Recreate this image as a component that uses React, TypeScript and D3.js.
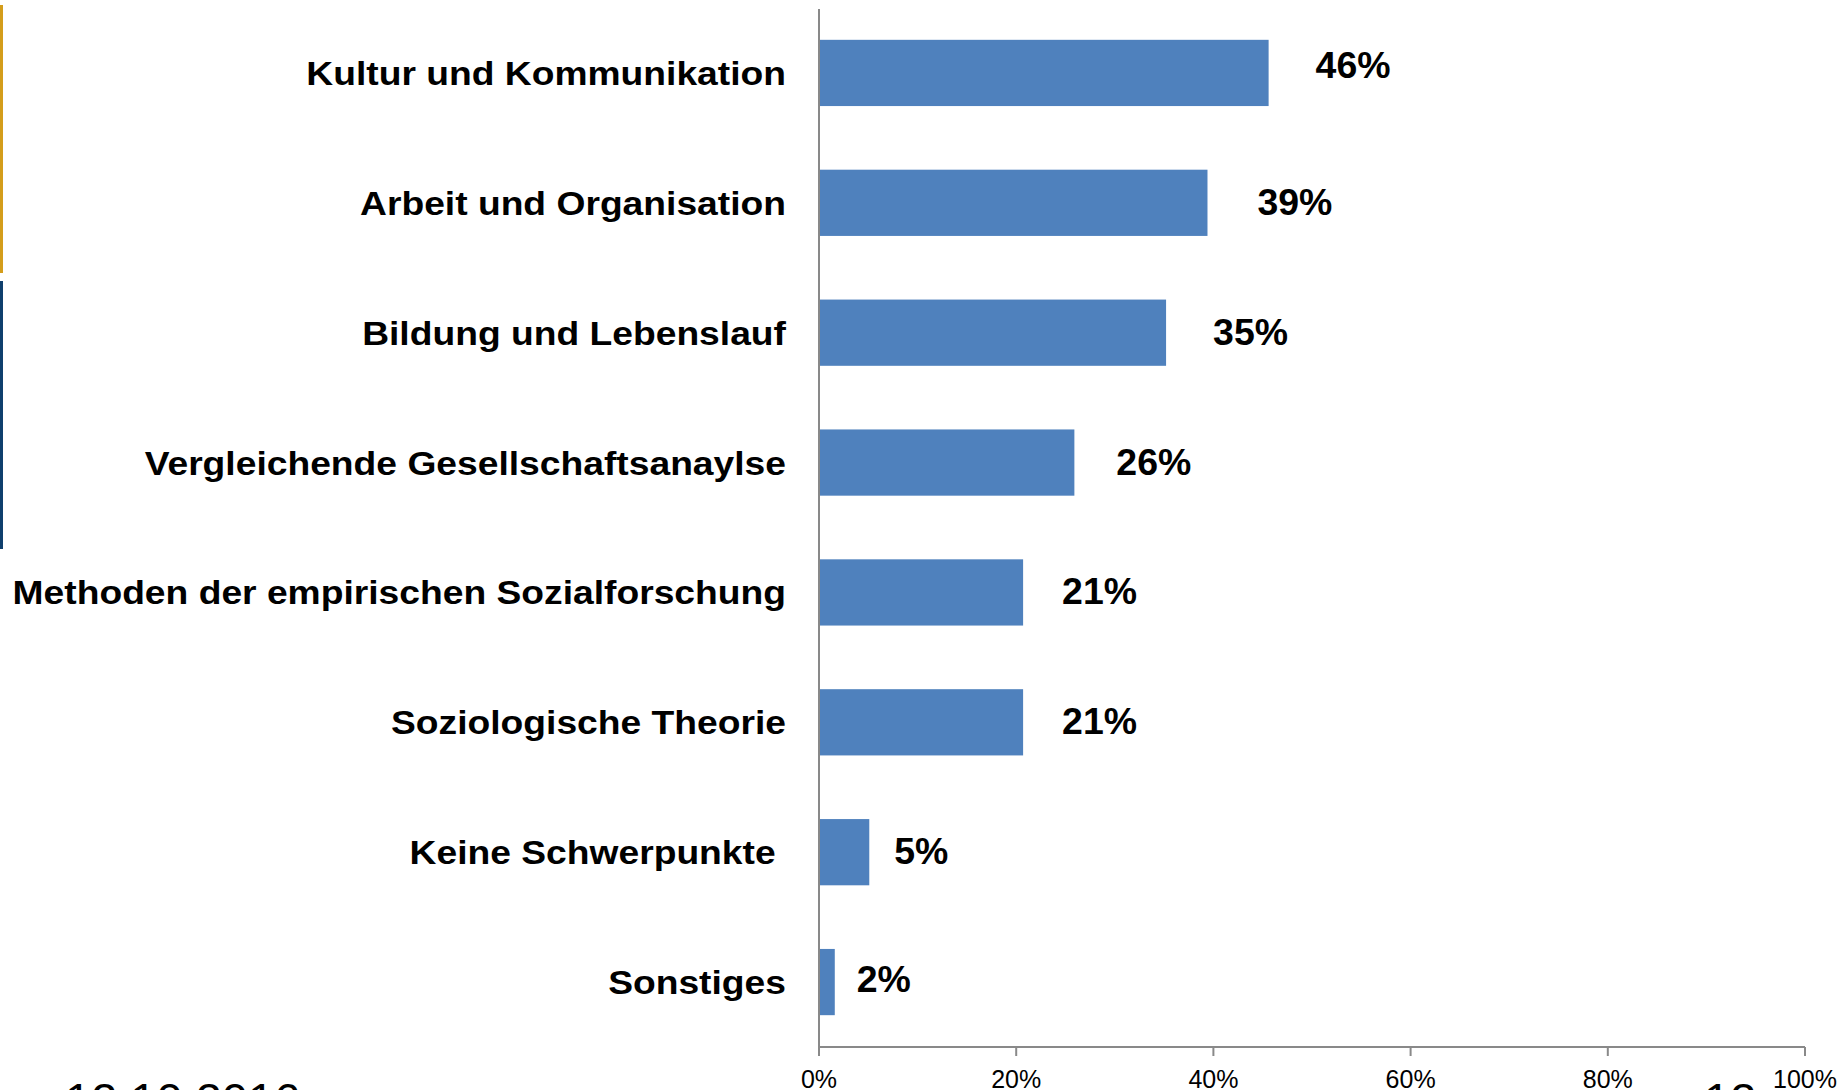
import React from "react";
import * as d3 from "d3";

const categories = [
  "Kultur und Kommunikation",
  "Arbeit und Organisation",
  "Bildung und Lebenslauf",
  "Vergleichende Gesellschaftsanaylse",
  "Methoden der empirischen Sozialforschung",
  "Soziologische Theorie",
  "Keine Schwerpunkte ",
  "Sonstiges",
];
const values = [45.6, 39.4, 35.2, 25.9, 20.7, 20.7, 5.1, 1.6];
const valueLabels = ["46%", "39%", "35%", "26%", "21%", "21%", "5%", "2%"];
const xTicks = [0, 20, 40, 60, 80, 100];
const labelDx = [47, 50, 47, 42, 39, 39, 25, 22];
const labelDy = [-7, 0, 0, 0, 0, 0, 0, -2];
const footerDate = "12.10.2016";
const pageNumber = "12";

const W = 1846;
const H = 1090;
const FONT = "'Liberation Sans', Arial, Helvetica, sans-serif";

export default function App() {
  const x = d3.scaleLinear().domain([0, 100]).range([819, 1805]);
  const y = d3
    .scaleBand<string>()
    .domain(categories)
    .range([8, 1047])
    .paddingInner(0.49)
    .paddingOuter(0.245);
  const axisY = 1047;
  const axisColor = "#898989";

  return (
    <svg
      width={W}
      height={H}
      style={{ position: "absolute", left: 0, top: 0, background: "#fff" }}
      fontFamily={FONT}
    >
      <rect x={0} y={0} width={W} height={H} fill="#fff" />
      {/* left decorative bars */}
      <rect x={0} y={5} width={3} height={268} fill="#D49D1B" />
      <rect x={0} y={281} width={3} height={268} fill="#0F3F6D" />

      {/* bars */}
      {categories.map((c, i) => (
        <rect
          key={c}
          x={x(0)}
          y={y(c)!}
          width={x(values[i]) - x(0)}
          height={y.bandwidth()}
          fill="#4F81BD"
        />
      ))}

      {/* y axis */}
      <line x1={x(0)} x2={x(0)} y1={9} y2={axisY} stroke={axisColor} strokeWidth={2} />
      {/* x axis */}
      <line x1={x(0)} x2={x(100)} y1={axisY} y2={axisY} stroke={axisColor} strokeWidth={2} />
      {xTicks.map((t) => (
        <g key={t}>
          <line x1={x(t)} x2={x(t)} y1={axisY} y2={axisY + 9} stroke={axisColor} strokeWidth={2} />
          <text x={x(t)} y={1088} textAnchor="middle" fontSize={25} fill="#000">
            {t}%
          </text>
        </g>
      ))}

      {/* category labels */}
      {categories.map((c) => (
        <text
          key={c}
          transform={`translate(786, ${y(c)! + y.bandwidth() / 2 + 12}) scale(1.095, 1)`}
          textAnchor="end"
          fontSize={34}
          fontWeight="bold"
          fill="#000"
          style={{ whiteSpace: "pre" }}
        >
          {c}
        </text>
      ))}

      {/* value labels */}
      {categories.map((c, i) => (
        <text
          key={c}
          transform={`translate(${x(values[i]) + labelDx[i]}, ${y(c)! + y.bandwidth() / 2 + 12 + labelDy[i]}) scale(1.04, 1)`}
          fontSize={36}
          fontWeight="bold"
          fill="#000"
        >
          {valueLabels[i]}
        </text>
      ))}

      {/* footer */}
      <text x={65} y={1116} fontSize={47} fill="#000">
        {footerDate}
      </text>
      <text x={1704} y={1116} fontSize={47} fill="#000">
        {pageNumber}
      </text>
    </svg>
  );
}
